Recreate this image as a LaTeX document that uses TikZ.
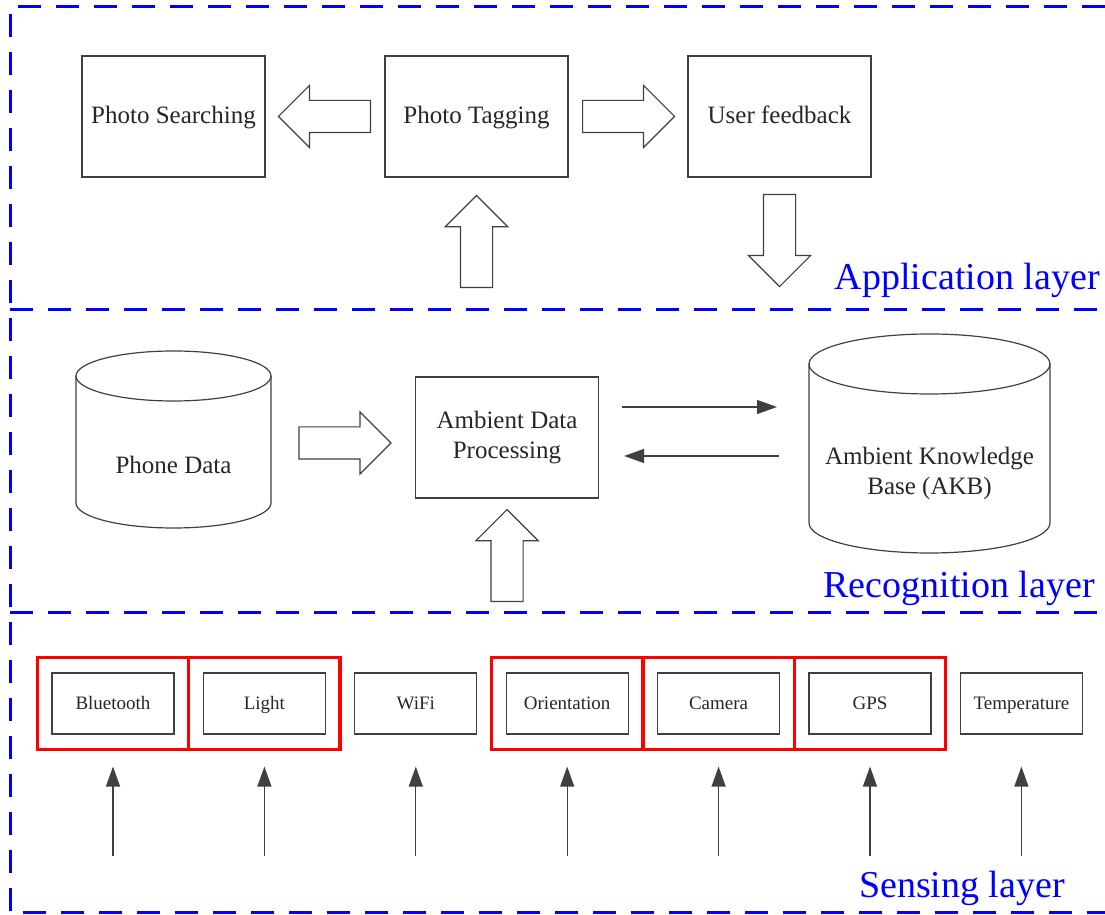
\documentclass[tikz,border=0pt]{standalone}
\usepackage{fontspec}
\setmainfont{Liberation Serif}
\usetikzlibrary{shapes.arrows,arrows.meta,calc,positioning}

\begin{document}
\begin{tikzpicture}[x=1pt,y=1pt,
box/.style={shape=rectangle,draw=black!75,line width=1.2pt,text=black!85,minimum width=183pt,minimum height=121pt,font=\fontsize{25}{30}\selectfont,align=center},
oneline/.style={text height=21pt,text depth=6pt},
sensor/.style={shape=rectangle,draw=black!75,line width=1.2pt,text=black!85,minimum width=122pt,minimum height=61pt,font=\fontsize{19}{22}\selectfont,text height=16pt,text depth=4pt},
group/.style={shape=rectangle,draw=red,line width=3.5pt,minimum width=151.4pt,minimum height=92pt},
db/.style={shape=rectangle,outer sep=0pt,text=black!85,font=\fontsize{25}{30}\selectfont,align=center},
cyl/.style={draw=black!75,line width=1.2pt},
fat/.style={single arrow,draw=black!75,line width=1.2pt,fill=white,minimum height=92pt,inner sep=15.5pt,single arrow head extend=15pt,outer sep=0pt},
link/.style={draw=black!75,line width=1.2pt,-{Triangle[length=20pt,width=14pt]}},
layer/.style={draw=blue,line width=3pt,dash pattern=on 23pt off 15pt},
layername/.style={text=blue,font=\fontsize{38}{40}\selectfont,anchor=base east,inner sep=0pt}]

\useasboundingbox (0,0) rectangle (1105,915);

\draw[layer] (1105,908) -- (10,908) -- (10,2) -- (1105,2);
\draw[layer] (10,605) -- (1105,605);
\draw[layer] (10,302) -- (1105,302);

\node[layername] (app) at (1100,625) {Application layer};
\node[layername] (rec) at (1095,317) {Recognition layer};
\node[layername] (sens) at (1065,17) {Sensing layer};

\node[box,oneline] (search) at (173.5,798.5) {Photo Searching};
\node[box,oneline] (tag) at (476.5,798.5) {Photo Tagging};
\node[box,oneline] (feedback) at (779.5,798.5) {User feedback};
\node[box] (adp) at (507,477.5) {Ambient Data\\Processing};

\node[db,minimum width=195pt,minimum height=127pt] (phone) at (173.5,450.5) {Phone Data};
\node[db,minimum width=241pt,minimum height=159pt] (akb) at (929.5,441.5) {Ambient Knowledge\\Base (AKB)};

\draw[cyl] ($(phone.north)+(0,25)$) ellipse [x radius=97.5, y radius=25];
\draw[cyl] ($(phone.north west)+(0,25)$) -- ($(phone.south west)+(0,25)$) arc [start angle=180, end angle=360, x radius=97.5, y radius=25] -- ($(phone.north east)+(0,25)$);
\draw[cyl] ($(akb.north)+(0,30)$) ellipse [x radius=120.5, y radius=30];
\draw[cyl] ($(akb.north west)+(0,30)$) -- ($(akb.south west)+(0,30)$) arc [start angle=180, end angle=360, x radius=120.5, y radius=30] -- ($(akb.north east)+(0,30)$);

\node[fat,shape border rotate=180,anchor=tail] (tag2search) at ($(tag.west)+(-14,0)$) {};
\node[fat,anchor=tail] (tag2feedback) at ($(tag.east)+(14,0)$) {};
\node[fat,shape border rotate=90,anchor=tail] (up2tag) at ($(tag.south)+(0,-110)$) {};
\node[fat,shape border rotate=270,anchor=tail] (feedback2down) at ($(feedback.south)+(0,-17)$) {};
\node[fat,anchor=tail] (phone2adp) at ($(phone.east)+(28,21.5)$) {};
\node[fat,shape border rotate=90,anchor=tail] (up2adp) at ($(adp.south)+(0,-103)$) {};

\draw[link] ($(adp.east)+(23,30.5)$) -- ($(akb.west)+(-32,66.5)$);
\draw[link] ($(akb.west)+(-30,17.5)$) -- ($(adp.east)+(25,-18.5)$);

\foreach \nm/\txt/\hl [count=\i from 0] in {bt/Bluetooth/1,light/Light/1,wifi/WiFi/0,orient/Orientation/1,cam/Camera/1,gps/GPS/1,temp/Temperature/0}{
  \node[sensor] (\nm) at (113+151.4*\i,211.5) {\txt};
  \ifnum\hl=1 \node[group] (\nm-g) at (\nm) {}; \fi
  \coordinate (\nm-in) at ($(\nm.south)+(0,-121)$);
  \draw[link] (\nm-in) -- ($(\nm.south)+(0,-32)$);
}

\end{tikzpicture}
\end{document}
